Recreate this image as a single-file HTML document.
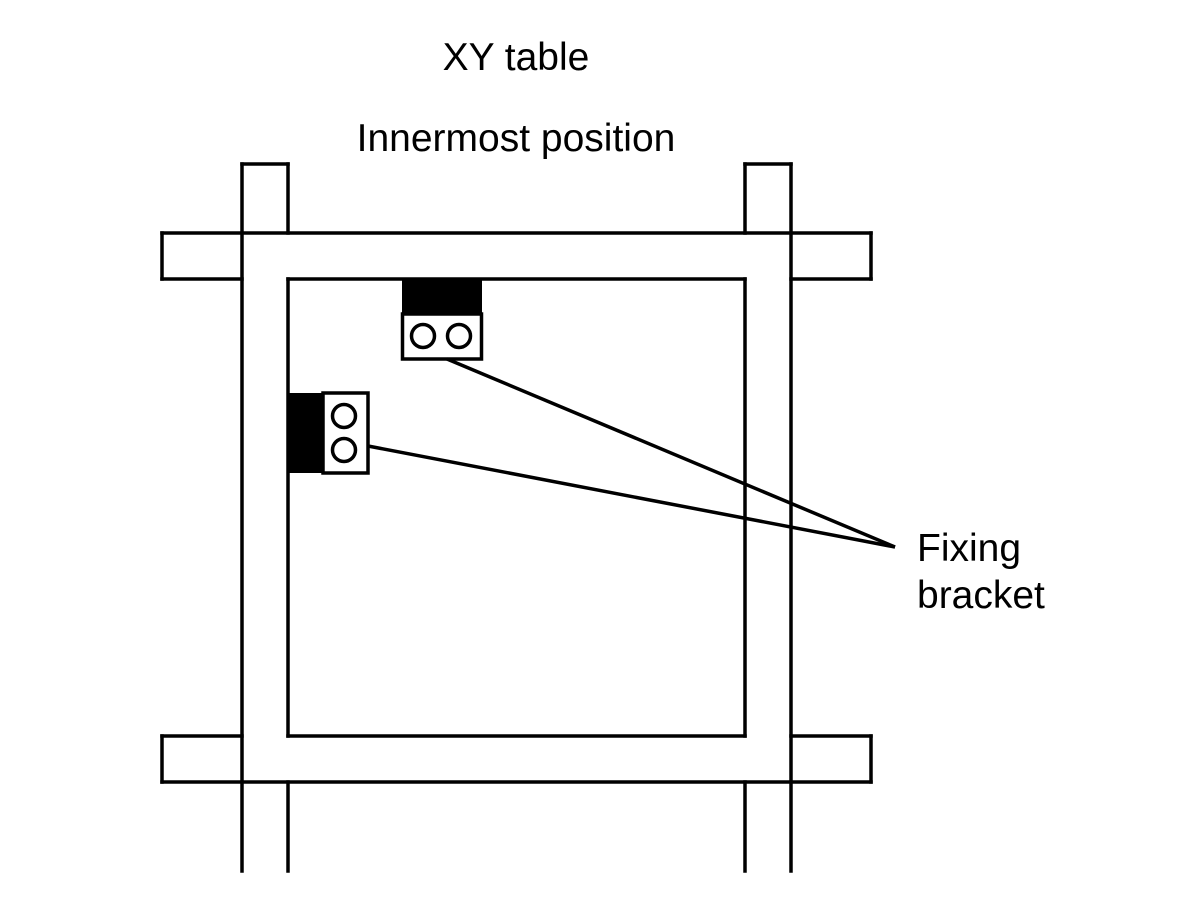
<!DOCTYPE html>
<html><head><style>body{margin:0;background:#fff}svg{display:block}</style></head>
<body>
<svg width="1200" height="900" xmlns="http://www.w3.org/2000/svg">
<g stroke="#000" stroke-width="3.5" fill="none" stroke-linecap="square">
<line x1="242" y1="164" x2="242" y2="871"/>
<line x1="791" y1="164" x2="791" y2="871"/>
<line x1="288" y1="164" x2="288" y2="233"/>
<line x1="288" y1="279" x2="288" y2="736"/>
<line x1="288" y1="782" x2="288" y2="871"/>
<line x1="745" y1="164" x2="745" y2="233"/>
<line x1="745" y1="279" x2="745" y2="736"/>
<line x1="745" y1="782" x2="745" y2="871"/>
<line x1="242" y1="164" x2="288" y2="164"/>
<line x1="745" y1="164" x2="791" y2="164"/>
<line x1="162" y1="233" x2="871" y2="233"/>
<line x1="162" y1="782" x2="871" y2="782"/>
<line x1="162" y1="279" x2="242" y2="279"/>
<line x1="288" y1="279" x2="745" y2="279"/>
<line x1="791" y1="279" x2="871" y2="279"/>
<line x1="162" y1="736" x2="242" y2="736"/>
<line x1="288" y1="736" x2="745" y2="736"/>
<line x1="791" y1="736" x2="871" y2="736"/>
<line x1="162" y1="233" x2="162" y2="279"/>
<line x1="871" y1="233" x2="871" y2="279"/>
<line x1="162" y1="736" x2="162" y2="782"/>
<line x1="871" y1="736" x2="871" y2="782"/>
</g>
<rect x="402" y="279" width="80" height="35" fill="#000"/>
<rect x="402.5" y="314" width="79" height="45" fill="#fff" stroke="#000" stroke-width="3.5"/>
<circle cx="423" cy="336" r="11.5" fill="none" stroke="#000" stroke-width="3.5"/>
<circle cx="459" cy="336" r="11.5" fill="none" stroke="#000" stroke-width="3.5"/>
<rect x="288" y="393" width="35" height="80" fill="#000"/>
<rect x="323" y="393" width="45" height="80" fill="#fff" stroke="#000" stroke-width="3.5"/>
<circle cx="344" cy="416" r="11.5" fill="none" stroke="#000" stroke-width="3.5"/>
<circle cx="344" cy="450" r="11.5" fill="none" stroke="#000" stroke-width="3.5"/>
<line x1="447" y1="359" x2="895" y2="547" stroke="#000" stroke-width="3.5"/>
<line x1="368" y1="446" x2="895" y2="547" stroke="#000" stroke-width="3.5"/>
<g font-family="Liberation Sans, sans-serif" font-size="39" fill="#000">
<text x="516" y="70" text-anchor="middle">XY table</text>
<text x="516" y="151" text-anchor="middle">Innermost position</text>
<text x="917" y="561">Fixing</text>
<text x="917" y="608">bracket</text>
</g>
</svg>
</body></html>
